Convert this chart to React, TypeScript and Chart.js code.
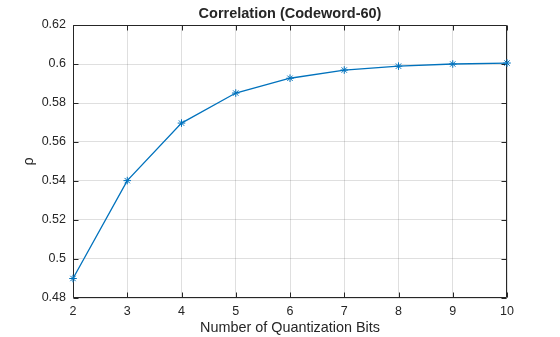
import React, { useEffect, useRef } from "react";
import { Chart, registerables } from "chart.js";

Chart.register(...registerables);

const bits = [2, 3, 4, 5, 6, 7, 8, 9, 10];
const rho = [0.4900, 0.5402, 0.5697, 0.5851, 0.5927, 0.5969, 0.5989, 0.6000, 0.6005];
const yTicks = [0.48, 0.5, 0.52, 0.54, 0.56, 0.58, 0.6, 0.62];
const chartTitle = "Correlation (Codeword-60)";
const xTitle = "Number of Quantization Bits";
const yTitle = "ρ";

const TEXT = "#262626";
const FONT = "'Liberation Sans', Arial, Helvetica, sans-serif";

const boxPlugin = {
  id: "matlabBox",
  beforeDatasetsDraw(chart: any) {
    const { ctx, chartArea } = chart;
    const { left, right, top, bottom } = chartArea;
    const xs = chart.scales.x;
    const ys = chart.scales.y;
    ctx.save();
    ctx.strokeStyle = TEXT;
    ctx.lineWidth = 1;
    const L = Math.round(left) + 0.5;
    const R = Math.round(right) - 0.5;
    const T = Math.round(top) + 0.5;
    const B = Math.round(bottom) - 0.5;
    ctx.beginPath();
    ctx.rect(L, T, R - L, B - T);
    ctx.stroke();
    const tl = 5;
    ctx.beginPath();
    for (const v of bits) {
      const px = Math.round(xs.getPixelForValue(v)) + 0.5;
      ctx.moveTo(px, B);
      ctx.lineTo(px, B - tl);
      ctx.moveTo(px, T);
      ctx.lineTo(px, T + tl);
    }
    for (const v of yTicks) {
      const py = Math.round(ys.getPixelForValue(v)) + 0.5;
      ctx.moveTo(L, py);
      ctx.lineTo(L + tl, py);
      ctx.moveTo(R, py);
      ctx.lineTo(R - tl, py);
    }
    ctx.stroke();
    ctx.fillStyle = TEXT;
    ctx.font = `bold 14.5px ${FONT}`;
    ctx.textAlign = "center";
    ctx.textBaseline = "middle";
    ctx.fillText(chartTitle, (left + right) / 2, 14);
    ctx.restore();
  },
};

export default function App() {
  const ref = useRef<HTMLCanvasElement | null>(null);
  useEffect(() => {
    if (!ref.current) return;
    const chart = new Chart(ref.current, {
      type: "line",
      data: {
        datasets: [
          {
            data: bits.map((b, i) => ({ x: b, y: rho[i] })),
            borderColor: "#0072BD",
            backgroundColor: "#0072BD",
            borderWidth: 1.3,
            pointStyle: "star",
            pointRadius: 3.8,
            pointBorderWidth: 1,
            pointBorderColor: "#0072BD",
            tension: 0,
            clip: false,
          } as any,
        ],
      },
      options: {
        animation: false,
        responsive: false,
        maintainAspectRatio: false,
        layout: { padding: { top: 25, right: 53, bottom: 0, left: 20 } },
        plugins: { legend: { display: false }, tooltip: { enabled: false }, title: { display: false } },
        scales: {
          x: {
            type: "linear",
            min: 2,
            max: 10,
            afterFit: (s: any) => { s.height = 39; },
            ticks: {
              stepSize: 1,
              color: TEXT,
              padding: 6,
              font: { family: FONT, size: 12.5 },
              maxRotation: 0,
            },
            grid: { color: "rgba(38,38,38,0.15)", drawTicks: false },
            border: { display: false },
            title: {
              display: true,
              text: xTitle,
              color: TEXT,
              font: { family: FONT, size: 14.4 },
              padding: 0,
            },
          },
          y: {
            type: "linear",
            min: 0.48,
            max: 0.62,
            afterFit: (s: any) => { s.width = 53; },
            afterBuildTicks: (s: any) => { s.ticks = yTicks.map((v) => ({ value: v })); },
            ticks: {
              color: TEXT,
              padding: 7,
              font: { family: FONT, size: 12.5 },
              callback: (v: any) => String(Number(Number(v).toFixed(2))),
            },
            grid: { color: "rgba(38,38,38,0.15)", drawTicks: false },
            border: { display: false },
            title: {
              display: true,
              text: yTitle,
              color: TEXT,
              font: { family: FONT, size: 14.4 },
              padding: 0,
            },
          },
        },
      },
      plugins: [boxPlugin],
    });
    return () => chart.destroy();
  }, []);
  return (
    <div style={{ position: "fixed", left: 0, top: 0, width: 560, height: 337, background: "#fff" }}>
      <canvas ref={ref} width={560} height={337} style={{ display: "block" }} />
    </div>
  );
}
